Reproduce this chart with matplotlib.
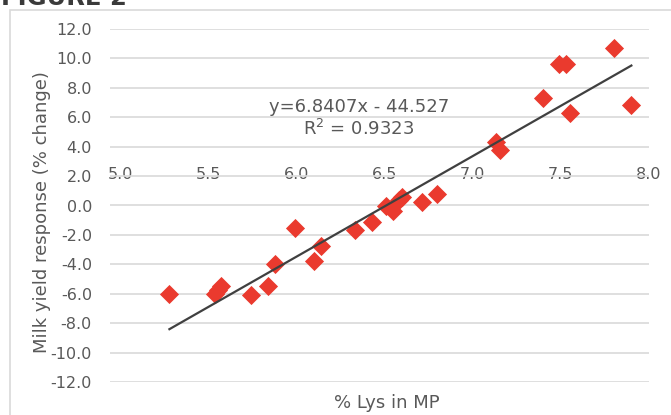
import matplotlib.pyplot as plt
from matplotlib.patches import Rectangle

# data
lys_pct = [5.28, 5.54, 5.555, 5.57, 5.74, 5.84, 5.88, 5.99, 6.10, 6.14,
           6.335, 6.43, 6.51, 6.55, 6.58, 6.60, 6.71, 6.80,
           7.13, 7.155, 7.40, 7.49, 7.53, 7.55, 7.80, 7.90]
milk_resp = [-6.0, -6.0, -5.75, -5.5, -6.1, -5.5, -4.0, -1.5, -3.75, -2.75,
             -1.65, -1.1, -0.05, -0.35, 0.35, 0.6, 0.25, 0.8,
             4.3, 3.8, 7.3, 9.6, 9.65, 6.3, 10.7, 6.85]
slope, intercept, r2 = 6.8407, -44.527, 0.9323
x_ticks = [5.0, 5.5, 6.0, 6.5, 7.0, 7.5, 8.0]
y_ticks = [-12, -10, -8, -6, -4, -2, 0, 2, 4, 6, 8, 10, 12]

plt.rcParams['font.family'] = ['DejaVu Sans']
txt = '#595959'

W, H = 671, 415
fig = plt.figure(figsize=(W / 100, H / 100), dpi=100)

# outer frame of the figure box (runs off the right and bottom edges)
fig.patches.append(Rectangle((10 / W, -0.2), 1.2, 1.2 - 10 / H,
                             transform=fig.transFigure, fill=False,
                             edgecolor='#d9d9d9', linewidth=1.2))
fig.text(1 / W, 1 - 5 / H, 'FIGURE 2', fontsize=17.5, fontweight='bold',
         color='#3a3a3a', va='baseline', ha='left')

ax = fig.add_axes([110 / W, 1 - 382 / H, 539 / W, 353 / H])
ax.set_xlim(4.943, 8.0)
ax.set_ylim(-12, 12)

ax.set_yticks(y_ticks)
ax.set_yticklabels([f'{v:.1f}' for v in y_ticks])
ax.set_xticks(x_ticks)
ax.set_xticklabels([f'{v:.1f}' for v in x_ticks])
ax.grid(axis='y', color='#d9d9d9', linewidth=1.2)
ax.set_axisbelow(True)
for s in ax.spines.values():
    s.set_visible(False)
ax.spines['bottom'].set_position(('data', 4.0))
ax.tick_params(axis='both', length=0, labelsize=11.5, labelcolor=txt)
ax.tick_params(axis='x', pad=14.5)
ax.tick_params(axis='y', pad=13)

ax.scatter(lys_pct, milk_resp, marker='D', s=95, color='#ea3a2e',
           linewidths=0, zorder=3)

x0, x1 = min(lys_pct), max(lys_pct)
ax.plot([x0, x1], [slope * x0 + intercept, slope * x1 + intercept],
        color='#404040', linewidth=1.6, zorder=4)

ax.text(6.358, 6.36, f'y={slope}x - {abs(intercept)}', fontsize=13,
        color=txt, ha='center', va='baseline')
ax.text(6.355, 4.79, f'R$^2$ = {r2}', fontsize=13, color=txt,
        ha='center', va='baseline')

ax.set_xlabel('% Lys in MP', fontsize=13, color=txt)
ax.xaxis.set_label_coords(0.513, -0.035)
ax.set_ylabel('Milk yield response (% change)', fontsize=13, color=txt)
ax.yaxis.set_label_coords(-0.109, 0.48)

fig.savefig('out.png', dpi=100)
